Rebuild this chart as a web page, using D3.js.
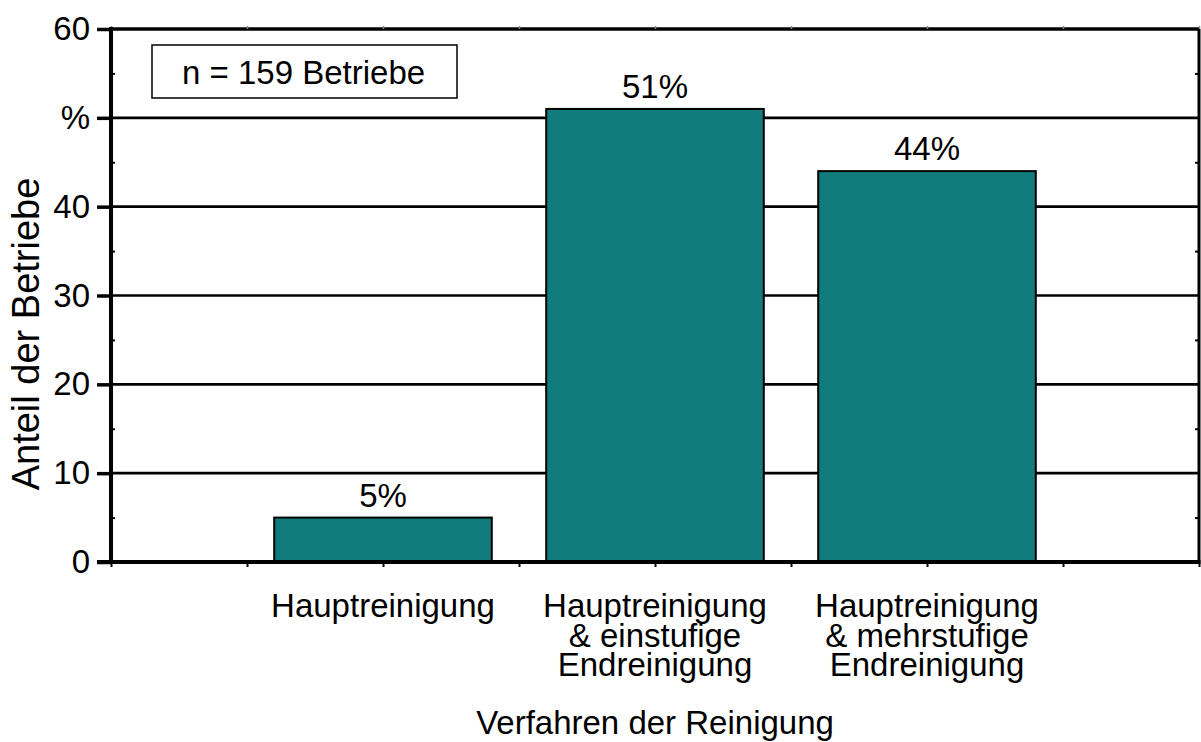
<!DOCTYPE html>
<html>
<head>
<meta charset="utf-8">
<script src="https://cdn.jsdelivr.net/npm/d3@7"></script>
<style>
  body { margin: 0; background: #fff; }
  svg text { font-family: "Liberation Sans", Arial, sans-serif; fill: #000; }
</style>
</head>
<body>
<svg id="chart"></svg>
<script>
// chart data
var categories = ['Hauptreinigung', 'Hauptreinigung\n& einstufige\nEndreinigung', 'Hauptreinigung\n& mehrstufige\nEndreinigung'];
var values = [5, 51, 44];
var valueLabels = ['5%', '51%', '44%'];
var yTicks = [0, 10, 20, 30, 40, 50, 60];
var yTickLabels = ['0', '10', '20', '30', '40', '%', '60'];
var yMinorTicks = [5, 15, 25, 35, 45, 55];
var noteText = 'n = 159 Betriebe';
var xTitle = 'Verfahren der Reinigung';
var yTitle = 'Anteil der Betriebe';

// layout (window.top is read-only, so plot* names)
var width = 1201, height = 742;
var plotLeft = 111, plotRight = 1199, plotTop = 29, plotBottom = 562;
var fontSize = '33px';

var svg = d3.select('#chart')
  .attr('width', width)
  .attr('height', height);

// scales
var y = d3.scaleLinear().domain([0, 60]).range([plotBottom, plotTop]);
// x minor ticks every 136 px: 8 steps across plot
var xGrid = d3.scaleLinear().domain([0, 8]).range([plotLeft, plotRight]);
var x = d3.scaleBand()
  .domain(categories)
  .range([xGrid(1), xGrid(7)])
  .paddingInner(0.2)
  .paddingOuter(0.1);

// gridlines
svg.append('g')
  .selectAll('line')
  .data(yTicks.filter(function(d) { return d > 0 && d < 60; }))
  .enter()
  .append('line')
    .attr('x1', plotLeft).attr('x2', plotRight)
    .attr('y1', function(d) { return y(d); })
    .attr('y2', function(d) { return y(d); })
    .style('stroke', '#000')
    .style('stroke-width', 2.7);

// bars
svg.append('g')
  .selectAll('rect')
  .data(values)
  .enter()
  .append('rect')
    .attr('x', function(d, i) { return x(categories[i]); })
    .attr('y', function(d) { return y(d); })
    .attr('width', x.bandwidth())
    .attr('height', function(d) { return y(0) - y(d); })
    .style('fill', '#107c7b')
    .style('stroke', '#000')
    .style('stroke-width', 2);

// value labels
svg.append('g')
  .selectAll('text')
  .data(values)
  .enter()
  .append('text')
    .attr('x', function(d, i) { return x(categories[i]) + x.bandwidth() / 2; })
    .attr('y', function(d) { return y(d) - 11; })
    .attr('text-anchor', 'middle')
    .style('font-size', fontSize)
    .text(function(d, i) { return valueLabels[i]; });

// frame: top and right borders
svg.append('line')
  .attr('x1', plotLeft).attr('x2', plotRight).attr('y1', plotTop).attr('y2', plotTop)
  .style('stroke', '#000').style('stroke-width', 3.5);
svg.append('line')
  .attr('x1', plotRight).attr('x2', plotRight).attr('y1', plotTop).attr('y2', plotBottom)
  .style('stroke', '#000').style('stroke-width', 3);

// x minor ticks (bottom and top)
var xAxis = svg.append('g')
  .attr('transform', 'translate(0,' + plotBottom + ')')
  .call(d3.axisBottom(xGrid).ticks(8).tickSize(5).tickFormat(''));
xAxis.select('.domain').remove();
xAxis.selectAll('line').style('stroke', '#000').style('stroke-width', 2);

var xTop = svg.append('g')
  .attr('transform', 'translate(0,' + plotTop + ')')
  .call(d3.axisTop(xGrid).ticks(8).tickSize(3).tickFormat(''));
xTop.select('.domain').remove();
xTop.selectAll('line').style('stroke', '#888').style('stroke-width', 1.5);

// y axis with major ticks pointing out
var yAxis = svg.append('g')
  .attr('transform', 'translate(' + plotLeft + ',0)')
  .call(d3.axisLeft(y).tickValues(yTicks).tickSize(14).tickPadding(8)
    .tickFormat(function(d, i) { return yTickLabels[i]; }));
yAxis.select('.domain').remove();
yAxis.selectAll('line').style('stroke', '#000').style('stroke-width', 3.5);
yAxis.selectAll('text')
  .attr('x', -21)
  .style('font-size', fontSize)
  .style('font-family', '"Liberation Sans", Arial, sans-serif');

// y minor ticks pointing in, both sides
var yMinorL = svg.append('g')
  .attr('transform', 'translate(' + plotLeft + ',0)')
  .call(d3.axisRight(y).tickValues(yMinorTicks).tickSize(4).tickFormat(''));
yMinorL.select('.domain').remove();
yMinorL.selectAll('line').style('stroke', '#000').style('stroke-width', 2);
var yMinorR = svg.append('g')
  .attr('transform', 'translate(' + plotRight + ',0)')
  .call(d3.axisLeft(y).tickValues(yMinorTicks).tickSize(4).tickFormat(''));
yMinorR.select('.domain').remove();
yMinorR.selectAll('line').style('stroke', '#000').style('stroke-width', 2);

// left and bottom axis lines
svg.append('line')
  .attr('x1', plotLeft).attr('x2', plotLeft).attr('y1', plotTop - 2).attr('y2', plotBottom + 2)
  .style('stroke', '#000').style('stroke-width', 4);
svg.append('line')
  .attr('x1', plotLeft - 14).attr('x2', plotRight + 1.5).attr('y1', plotBottom).attr('y2', plotBottom)
  .style('stroke', '#000').style('stroke-width', 4);

// category labels
var catLabel = svg.append('g')
  .selectAll('text')
  .data(categories)
  .enter()
  .append('text')
    .attr('transform', function(d) {
      return 'translate(' + (x(d) + x.bandwidth() / 2) + ',617)';
    })
    .attr('text-anchor', 'middle')
    .style('font-size', fontSize);
catLabel.selectAll('tspan')
  .data(function(d) { return d.split('\n'); })
  .enter()
  .append('tspan')
    .attr('x', 0)
    .attr('y', function(d, i) { return i * 29.5; })
    .text(function(d) { return d; });

// axis titles
svg.append('text')
  .attr('x', xGrid(4))
  .attr('y', 734)
  .attr('text-anchor', 'middle')
  .style('font-size', fontSize)
  .text(xTitle);

svg.append('text')
  .attr('transform', 'translate(39,334) rotate(-90)')
  .attr('text-anchor', 'middle')
  .style('font-size', '38px')
  .text(yTitle);

// note box
svg.append('rect')
  .attr('x', 152).attr('y', 45)
  .attr('width', 305).attr('height', 53)
  .style('fill', '#fff')
  .style('stroke', '#000')
  .style('stroke-width', 1.5);
svg.append('text')
  .attr('x', 182)
  .attr('y', 84)
  .style('font-size', fontSize)
  .text(noteText);
</script>
</body>
</html>
